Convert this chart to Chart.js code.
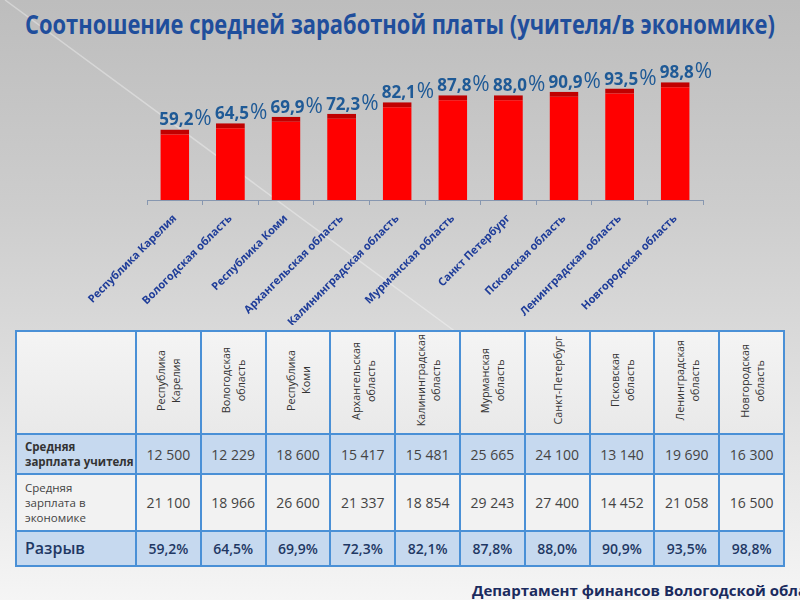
<!DOCTYPE html>
<html>
<head>
<meta charset="utf-8">
<script src="https://cdn.jsdelivr.net/npm/chart.js@4"></script>
<style>
    html, body { margin: 0; padding: 0; }
    body {
        width: 800px; height: 600px; overflow: hidden; position: relative;
        background: linear-gradient(180deg, #bdbdbd 0%, #cdcdcd 35%, #e2e2e2 70%, #f5f5f5 100%);
        font-family: "Open Sans", sans-serif;
    }
    #deco { position: absolute; left: 0; top: 0; }
    #title {
        position: absolute; top: 6px; left: 25px; white-space: nowrap;
        font-weight: bold; font-size: 26px; color: #1f4e9c; transform-origin: 0 0;
    }
    #chart { position: absolute; left: 0; top: 40px; }
    table {
        position: absolute; left: 15px; top: 330px; width: 770px;
        border-collapse: collapse; table-layout: fixed;
    }
    td { border: 2px solid #4a90d6; text-align: center; padding: 0; color: #444; font-size: 14px; }
    tr.head td { height: 101px; background: linear-gradient(180deg, #f4f4f4, #e9e9e9); }
    tr.teacher td { height: 38px; background: #c6d9ef; }
    tr.economy td { height: 55px; background: #f2f2f2; }
    tr.gap td { height: 33px; background: #c6d9ef; color: #1f3864; font-size: 14px; font-weight: 600; }
    td.lbl { text-align: left; padding-left: 8px; font-size: 11.5px; line-height: 15px; }
    tr.teacher td.lbl { font-weight: bold; color: #333; }
    tr.gap td.lbl { font-size: 16px; font-weight: 600; }
    .vert {
        display: inline-block; writing-mode: vertical-rl; transform: rotate(180deg);
        font-size: 10.8px; line-height: 15px; color: #333; text-align: center;
    }
    #footer {
        position: absolute; left: 472px; top: 580px; white-space: nowrap;
        font-weight: bold; font-size: 15px; color: #1b2b5e;
    }
</style>
</head>
<body>
<svg id="deco" width="800" height="600">
    <line x1="5" y1="0" x2="460" y2="335" stroke="rgba(255,255,255,0.35)" stroke-width="1.5"/>
</svg>
<div id="title">Соотношение средней заработной платы (учителя/в экономике)</div>
<canvas id="chart" width="800" height="285"></canvas>
<table id="tbl"></table>
<div id="footer">Департамент финансов Вологодской области</div>

<script>
const regions = ['Республика Карелия', 'Вологодская область', 'Республика Коми', 'Архангельская область',
    'Калининградская область', 'Мурманская область', 'Санкт Петербург', 'Псковская область',
    'Ленинградская область', 'Новгородская область'];
const tableHeads = [['Республика', 'Карелия'], ['Вологодская', 'область'], ['Республика', 'Коми'],
    ['Архангельская', 'область'], ['Калининградская', 'область'], ['Мурманская', 'область'],
    ['Санкт-Петербург'], ['Псковская', 'область'], ['Ленинградская', 'область'], ['Новгородская', 'область']];
const gapPct = [59.2, 64.5, 69.9, 72.3, 82.1, 87.8, 88.0, 90.9, 93.5, 98.8];
const teacherPay = [12500, 12229, 18600, 15417, 15481, 25665, 24100, 13140, 19690, 16300];
const economyPay = [21100, 18966, 26600, 21337, 18854, 29243, 27400, 14452, 21058, 16500];

function fmtPct(v) {
    return v.toFixed(1).replace('.', ',');
}

function fmtNum(n) {
    return String(n).replace(/\B(?=(\d{3})+(?!\d))/g, ' ');
}

// squeeze title to the slide width
const title = document.getElementById('title');
title.style.transform = 'scaleX(' + (750 / title.offsetWidth) + ')';

// table under the chart
let html = '<colgroup><col style="width:120px">' + regions.map(() => '<col>').join('') + '</colgroup>';
html += '<tr class="head"><td></td>' +
    tableHeads.map(h => `<td><span class="vert">${h.join('<br>')}</span></td>`).join('') + '</tr>';
html += '<tr class="teacher"><td class="lbl">Средняя<br>зарплата учителя</td>' +
    teacherPay.map(v => `<td>${fmtNum(v)}</td>`).join('') + '</tr>';
html += '<tr class="economy"><td class="lbl">Средняя<br>зарплата в<br>экономике</td>' +
    economyPay.map(v => `<td>${fmtNum(v)}</td>`).join('') + '</tr>';
html += '<tr class="gap"><td class="lbl">Разрыв</td>' +
    gapPct.map(v => `<td>${fmtPct(v)}%</td>`).join('') + '</tr>';
document.getElementById('tbl').innerHTML = html;

// value labels above bars, big percent sign
const valueLabels = {
    id: 'valueLabels',
    afterDatasetsDraw(chart) {
        const ctx = chart.ctx;
        const meta = chart.getDatasetMeta(0);
        ctx.save();
        ctx.fillStyle = '#1f5a96';
        ctx.textBaseline = 'alphabetic';
        ctx.textAlign = 'left';
        meta.data.forEach((bar, i) => {
            const num = fmtPct(gapPct[i]);
            const x = bar.x - bar.width / 2 - 1;
            const y = bar.y - 4;
            ctx.font = 'bold 17px "Open Sans"';
            ctx.fillText(num, x, y);
            const w = ctx.measureText(num).width;
            ctx.font = '21px "Open Sans"';
            ctx.fillText('%', x + w + 1, y);
        });
        ctx.restore();
    }
};

new Chart(document.getElementById('chart'), {
    type: 'bar',
    data: {
        labels: regions,
        datasets: [{
            data: gapPct,
            backgroundColor: '#ff0000',
            borderColor: '#c00000',
            borderWidth: { top: 5, right: 0, bottom: 0, left: 0 },
            borderSkipped: false,
            categoryPercentage: 0.52,
            barPercentage: 1
        }]
    },
    options: {
        responsive: false,
        animation: false,
        devicePixelRatio: 1,
        layout: { padding: { left: 147, right: 97, top: 17, bottom: 0 } },
        plugins: {
            legend: { display: false },
            tooltip: { enabled: false }
        },
        scales: {
            y: { display: false, min: 0, max: 120 },
            x: {
                grid: { offset: true, drawOnChartArea: false, tickLength: 5, color: '#8797b0' },
                border: { color: '#8797b0' },
                ticks: {
                    minRotation: 45,
                    maxRotation: 45,
                    color: '#1f3d99',
                    padding: 7,
                    font: { family: 'Open Sans', weight: 'bold', size: 11 }
                },
                afterFit: s => { s.height = 125; }
            }
        }
    },
    plugins: [valueLabels]
});
</script>
</body>
</html>
